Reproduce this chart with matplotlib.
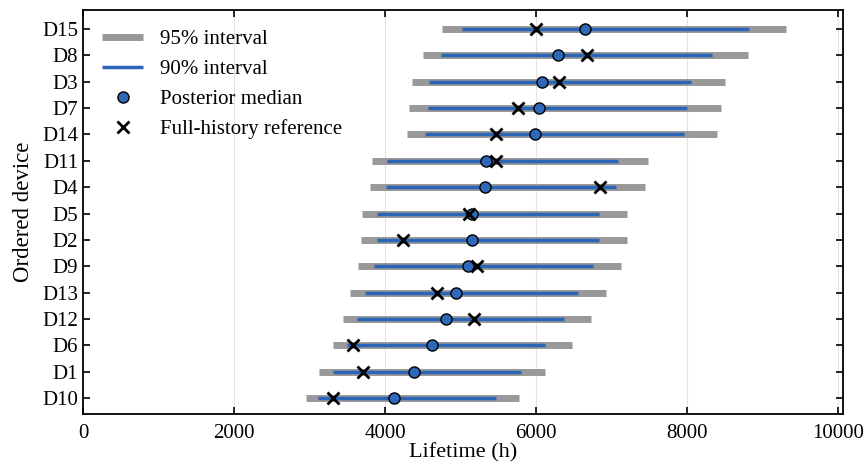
import matplotlib
matplotlib.use("Agg")
import matplotlib.pyplot as plt
import numpy as np

# devices ordered bottom -> top (by posterior median)
devices = ["D10", "D1", "D6", "D12", "D13", "D9", "D2", "D5",
           "D4", "D11", "D14", "D7", "D3", "D8", "D15"]
lo95 = [2950, 3130, 3310, 3440, 3540, 3640, 3680, 3690,
        3800, 3820, 4290, 4320, 4350, 4500, 4757]
hi95 = [5770, 6120, 6470, 6720, 6920, 7120, 7200, 7200,
        7440, 7480, 8390, 8440, 8500, 8800, 9310]
lo90 = [3110, 3310, 3490, 3630, 3730, 3850, 3890, 3890,
        4010, 4030, 4520, 4560, 4580, 4740, 5020]
hi90 = [5470, 5800, 6120, 6370, 6550, 6750, 6830, 6830,
        7050, 7080, 7950, 8000, 8050, 8330, 8820]
median = [4120, 4380, 4620, 4800, 4940, 5100, 5150, 5150,
          5320, 5340, 5980, 6040, 6070, 6290, 6647]
reference = [3310, 3700, 3570, 5180, 4680, 5220, 4230, 5110,
             6840, 5460, 5470, 5760, 6300, 6670, 5996]

plt.rcParams["font.family"] = ["Liberation Serif", "DejaVu Serif"]

fig = plt.figure(figsize=(8.65, 4.70), dpi=100)
ax = fig.add_axes([0.096, 0.119, 0.8786, 0.8587])

y = np.arange(len(devices))

ax.hlines(y, lo95, hi95, color="#999999", lw=5, capstyle="butt",
          label="95% interval", zorder=2)
ax.hlines(y, lo90, hi90, color="#2b65b5", lw=2.5, capstyle="butt",
          label="90% interval", zorder=3)
ax.plot(median, y, "o", ms=8, mfc="#2f68b8", mec="black", mew=1.0,
        ls="none", label="Posterior median", zorder=4)
ax.plot(reference, y, "x", ms=9, mec="black", mew=2.0, ls="none",
        label="Full-history reference", zorder=5)

ax.set_yticks(y)
ax.set_yticklabels(devices)
ax.set_xticks([0, 2000, 4000, 6000, 8000, 10000])
ax.set_xlim(0, 10060)
ax.set_ylim(-0.6, len(devices) - 1 + 0.7)

ax.grid(axis="x", color="#e3e3e3", lw=0.8)
ax.set_axisbelow(True)
ax.tick_params(direction="in", top=True, right=True, length=5,
               width=1.2, labelsize=15)
ax.tick_params(axis="x", pad=7)
for s in ax.spines.values():
    s.set_linewidth(1.3)

ax.set_xlabel("Lifetime (h)", fontsize=16, labelpad=0)
ax.set_ylabel("Ordered device", fontsize=16.5, labelpad=6)
ax.legend(loc="upper left", frameon=False, fontsize=15)

fig.savefig("out.png", dpi=100)
